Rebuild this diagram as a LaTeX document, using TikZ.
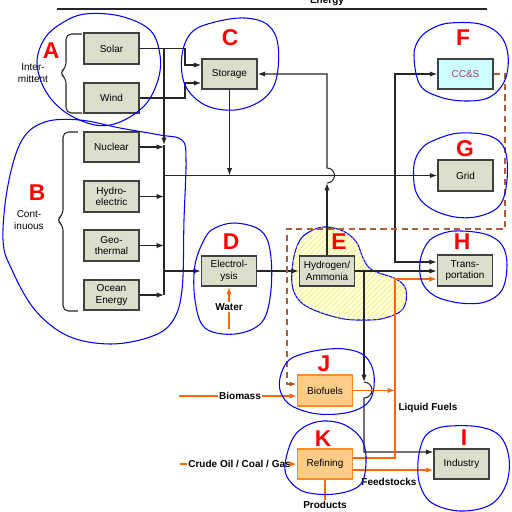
\documentclass[tikz,border=0pt]{standalone}
\usepackage{fontspec}
\setmainfont{Liberation Sans}
\usetikzlibrary{arrows.meta,patterns}

\definecolor{boxgray}{RGB}{221,221,204}
\definecolor{fuelfill}{RGB}{255,204,136}
\definecolor{fuelline}{RGB}{255,140,40}
\definecolor{oline}{RGB}{255,102,0}
\definecolor{ccsfill}{RGB}{204,255,255}
\definecolor{ccstext}{RGB}{176,48,110}
\definecolor{dashbrown}{RGB}{170,95,60}
\definecolor{blobyellow}{RGB}{255,255,210}
\definecolor{hatchyellow}{RGB}{242,236,160}

\newcommand{\boxfont}{\fontsize{5.7}{6.7}\selectfont}

\begin{document}
\begin{tikzpicture}[x=0.02cm, y=-0.02cm,
	box/.style={draw=black!75, fill=boxgray, line width=0.9pt, minimum width=1.1cm, minimum height=0.61cm, inner sep=0pt, align=center, font=\boxfont},
	fuelbox/.style={box, draw=fuelline, fill=fuelfill},
	tag/.style={text=red, font=\fontsize{13}{13}\selectfont\bfseries},
	note/.style={font=\boxfont\bfseries, inner sep=0.6pt},
	group/.style={font=\boxfont, align=center},
	blob/.style={draw=blue, line width=0.6pt},
	line/.style={draw=black!85, line width=0.6pt},
	flow/.style={line, -{Latex[length=4.2pt,width=3pt]}},
	oline/.style={draw=oline, line width=0.6pt},
	oflow/.style={oline, -{Latex[length=4.2pt,width=3pt]}},
	dflow/.style={draw=dashbrown, line width=0.8pt, dash pattern=on 3.5pt off 2.5pt, -{Latex[length=4pt,width=3pt]}}]
	\useasboundingbox (0,0) rectangle (512,512);

	\draw [blob, fill=blobyellow, postaction={pattern=north east lines, pattern color=hatchyellow}] plot [smooth cycle, tension=0.6] coordinates {(293,262) (300,240) (313,230) (327,227) (345,232) (357,243) (363,258) (372,270) (396,279) (406,290) (403,309) (385,318) (366,320) (339,318) (306,306) (293,289)};

	\coordinate (topl) at (57,9);
	\coordinate (topr) at (487,9);
	\draw [line] (topl) to (topr);
	\node [note, anchor=base] (energy) at (327,3.5) {Energy};

	\node [box] (solar) at (111.5,48.5) {Solar};
	\node [box] (wind) at (111.5,98) {Wind};
	\node [box] (nuclear) at (111.5,147) {Nuclear};
	\node [box] (hydro) at (111.5,196.5) {Hydro-\\electric};
	\node [box] (geo) at (111.5,245.5) {Geo-\\thermal};
	\node [box] (ocean) at (111.5,295) {Ocean\\Energy};
	\node [box] (storage) at (229.5,74) {Storage};
	\node [box, fill=ccsfill, text=ccstext] (ccs) at (465.5,74) {CC\&S};
	\node [box] (grid) at (465.5,175.5) {Grid};
	\node [box] (electro) at (229,271) {Electrol-\\ysis};
	\node [box] (hydrogen) at (327,271) {Hydrogen/\\Ammonia};
	\node [box] (transport) at (465,270.5) {Trans-\\portation};
	\node [fuelbox] (biofuels) at (325,390.5) {Biofuels};
	\node [fuelbox] (refining) at (325,464) {Refining};
	\node [box] (industry) at (461.5,464) {Industry};

	\node [group] (intermittent) at (33,73) {Inter-\\mittent};
	\node [group] (continuous) at (29,220) {Cont-\\inuous};
	\draw [line, rounded corners=3pt] (82,34) -- (66,34) -- (66,68) -- (59,73) -- (66,78) -- (66,113) -- (82,113);
	\draw [line, rounded corners=3pt] (78,132) -- (63,132) -- (63,215) -- (56,220) -- (63,225) -- (63,311) -- (78,311);

	\coordinate (sb1) at (185,48.5);
	\coordinate (sb2) at (185,65);
	\coordinate (wb1) at (185,98);
	\coordinate (wb2) at (185,83);
	\draw [flow] (solar.east) -- (sb1) -- (sb2) -- (storage.west |- sb2);
	\draw [flow] (wind.east) -- (wb1) -- (wb2) -- (storage.west |- wb2);

	\coordinate (bustop) at (164,48.5);
	\coordinate (busmid) at (164,145);
	\coordinate (busbot) at (164,295);
	\draw [flow] (bustop) to (busmid);
	\draw [line] (busmid) to (busbot);
	\draw [flow] (nuclear.east) to (nuclear.east -| bustop);
	\draw [flow] (hydro.east) to (hydro.east -| bustop);
	\draw [flow] (geo.east) to (geo.east -| bustop);
	\draw [flow] (ocean.east) to (ocean.east -| bustop);

	\coordinate (gridstart) at (164,175.5);
	\draw [flow] (gridstart) to (grid.west);
	\draw [flow] (storage.south) to (storage.south |- gridstart);
	\draw [flow] (electro.west -| bustop) to (electro.west);
	\draw [flow] (electro.east) to (hydrogen.west);

	\coordinate (branch) at (395,175.5);
	\coordinate (tb) at (395,262);
	\draw [flow] (branch) -- (branch |- ccs.west) -- (ccs.west);
	\draw [flow] (branch) -- (tb) -- (transport.west |- tb);

	\coordinate (hopA) at (327,183);
	\coordinate (hup) at (327,74);
	\draw [flow] (hydrogen.north) to (hopA);
	\draw [flow] (hopA) arc [start angle=90, end angle=-90, radius=7.5] -- (hup) -- (storage.east);
	\draw [flow] (hydrogen.east) to (transport.west |- hydrogen.east);

	\coordinate (hdown) at (364,271);
	\coordinate (hopC) at (364,382);
	\coordinate (ind) at (364,452);
	\draw [flow] (hdown) to (hopC);
	\draw [flow] (hopC) arc [start angle=-90, end angle=90, radius=8] -- (ind) -- (industry.west |- ind);

	\coordinate (lftop) at (395,279);
	\coordinate (lfbot) at (395,458);
	\coordinate (feedy) at (0,470);
	\draw [oflow] (biofuels.east) to (biofuels.east -| lftop);
	\draw [oflow] (refining.east |- lfbot) -- (lfbot) -- (lftop) -- (transport.west |- lftop);
	\draw [oflow] (refining.east |- feedy) to (industry.west |- feedy);
	\node [note] (liquid) at (428,408) {Liquid Fuels};
	\node [note] (feedstocks) at (389,482) {Feedstocks};

	\node [note] (products) at (325,505) {Products};
	\draw [oline] (refining.south) to (products.north);

	\node [note] (water) at (229,307) {Water};
	\coordinate (waterstart) at (229,329);
	\draw [oline] (waterstart) to (water.south);
	\draw [oflow] (water.north) to (electro.south);

	\node [note] (biomass) at (240,396) {Biomass};
	\coordinate (biostart) at (179,396);
	\draw [oline] (biostart) to (biomass.west);
	\draw [oflow] (biomass.east) to (biofuels.west |- biomass.east);

	\node [note] (crude) at (239.5,464) {Crude Oil / Coal / Gas};
	\coordinate (crudestart) at (180,464);
	\draw [oline] (crudestart) to (crude.west);
	\draw [oflow] (crude.east) to (refining.west);

	\coordinate (d1) at (505,74);
	\coordinate (d2) at (505,229);
	\coordinate (d3) at (287,229);
	\coordinate (d4) at (287,384);
	\draw [dflow] (ccs.east) -- (d1) -- (d2) -- (d3) -- (d4) -- (biofuels.west |- d4);

	\draw [blob] plot [smooth cycle, tension=0.6] coordinates {(62,23) (85,14) (120,16) (150,30) (160,55) (158,80) (145,105) (120,122) (95,125) (65,112) (45,90) (37,62) (45,38)};
	\draw [blob] plot [smooth cycle, tension=0.6] coordinates {(3,240) (8,185) (22,140) (45,122) (80,120) (120,128) (160,135) (182,140) (186,160) (184,220) (182,290) (172,322) (150,337) (110,344) (68,336) (35,310) (12,270)};
	\draw [blob] plot [smooth cycle, tension=0.6] coordinates {(182,55) (192,32) (215,22) (245,18) (268,25) (278,45) (276,80) (262,100) (235,110) (205,105) (185,85)};
	\draw [blob] plot [smooth cycle, tension=0.6] coordinates {(195,265) (205,238) (215,228) (235,223) (260,230) (270,250) (271,290) (262,322) (235,334) (205,328) (195,300)};
	\draw [blob] plot [smooth cycle, tension=0.6] coordinates {(414,55) (420,38) (433,28) (450,23) (480,24) (500,35) (508,55) (505,80) (490,97) (466,101) (440,97) (420,85)};
	\draw [blob] plot [smooth cycle, tension=0.6] coordinates {(414,165) (422,148) (437,139) (460,133) (490,136) (505,150) (507,180) (500,205) (480,216) (455,217) (430,208) (416,192)};
	\draw [blob] plot [smooth cycle, tension=0.6] coordinates {(420,262) (426,245) (436,236) (455,231) (485,234) (502,245) (507,265) (502,290) (485,302) (460,303) (435,296) (422,282)};
	\draw [blob] plot [smooth cycle, tension=0.6] coordinates {(418,462) (423,440) (433,430) (450,426) (480,427) (500,436) (509,458) (506,485) (490,505) (460,511) (432,503) (420,485)};
	\draw [blob] plot [smooth cycle, tension=0.6] coordinates {(280,378) (287,362) (299,355) (320,350) (345,349) (365,356) (374,375) (370,400) (350,412) (318,414) (292,406) (281,393)};
	\draw [blob] plot [smooth cycle, tension=0.6] coordinates {(285,465) (292,440) (304,427) (323,421) (345,425) (362,440) (366,462) (360,485) (335,494) (305,492) (289,480)};

	\node [tag] (tagA) at (51,51) {A};
	\node [tag] (tagB) at (37,193) {B};
	\node [tag] (tagC) at (230,38) {C};
	\node [tag] (tagD) at (231,242) {D};
	\node [tag] (tagE) at (339,242) {E};
	\node [tag] (tagF) at (463,38) {F};
	\node [tag] (tagG) at (465,149) {G};
	\node [tag] (tagH) at (462,242) {H};
	\node [tag] (tagI) at (464,438) {I};
	\node [tag] (tagJ) at (324,364) {J};
	\node [tag] (tagK) at (323,439) {K};
\end{tikzpicture}
\end{document}
